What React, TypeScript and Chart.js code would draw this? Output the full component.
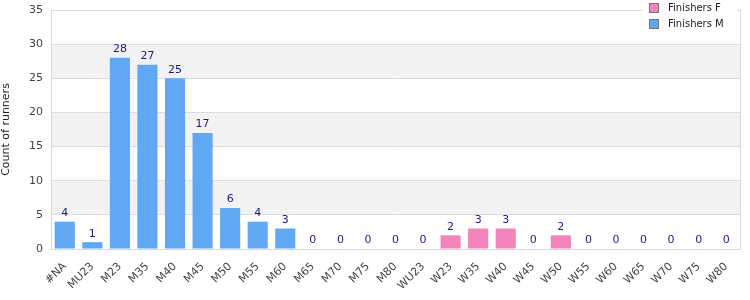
import React, { useEffect, useRef } from "react";
import { Chart, registerables } from "chart.js";

Chart.register(...registerables);

const categories = ["#NA","MU23","M23","M35","M40","M45","M50","M55","M60","M65","M70","M75","M80","WU23","W23","W35","W40","W45","W50","W55","W60","W65","W70","W75","W80"];
const finishersF = [0,0,0,0,0,0,0,0,0,0,0,0,0,0,2,3,3,0,2,0,0,0,0,0,0];
const finishersM = [4,1,28,27,25,17,6,4,3,0,0,0,0,0,0,0,0,0,0,0,0,0,0,0,0];
const yTicks = [0,5,10,15,20,25,30,35];

const FONT = "'DejaVu Sans', Verdana, sans-serif";
const PINK = "#f383bb";
const BLUE = "#60a8f4";

const decor = {
  id: "decor",
  beforeDraw(chart: any) {
    const { ctx, chartArea: a, scales } = chart;
    const y = scales.y;
    ctx.save();
    ctx.fillStyle = "#ffffff";
    ctx.fillRect(0, 0, chart.width, chart.height);
    ctx.fillStyle = "#f2f2f2";
    for (let v = 5; v < 35; v += 10) {
      const t = y.getPixelForValue(v + 5);
      const b = y.getPixelForValue(v);
      ctx.fillRect(a.left, t, a.right - a.left, b - t);
    }
    ctx.restore();
  },
  afterDraw(chart: any) {
    const { ctx, chartArea: a, scales } = chart;
    ctx.save();
    ctx.strokeStyle = "#d9d9d9";
    ctx.lineWidth = 1;
    ctx.strokeRect(Math.round(a.left) + 0.5, Math.round(a.top) + 0.5, Math.round(a.right - a.left), Math.round(a.bottom - a.top));
    // data labels
    ctx.font = "11px " + FONT;
    ctx.fillStyle = "#1a1a8c";
    ctx.textAlign = "center";
    ctx.textBaseline = "bottom";
    categories.forEach((c, i) => {
      const total = finishersF[i] + finishersM[i];
      const x = scales.x.getPixelForValue(i);
      const yy = scales.y.getPixelForValue(total);
      ctx.fillText(String(total), x, yy - 3);
    });
    // legend
    ctx.fillStyle = "#ffffff";
    ctx.fillRect(643, 0, 94, 32);
    const items = [["Finishers F", PINK], ["Finishers M", BLUE]];
    ctx.font = "10px " + FONT;
    ctx.textAlign = "left";
    ctx.textBaseline = "middle";
    items.forEach(([label, col], i) => {
      const cy = 8 + i * 16;
      ctx.fillStyle = col;
      ctx.fillRect(650, cy - 4, 8, 8);
      ctx.strokeStyle = "#777";
      ctx.strokeRect(649.5, cy - 4.5, 9, 9);
      ctx.fillStyle = "#222";
      ctx.fillText(label, 668, cy);
    });
    ctx.restore();
  },
};

export default function App() {
  const ref = useRef<HTMLCanvasElement>(null);
  useEffect(() => {
    document.body.style.margin = "0";
    const chart = new Chart(ref.current!, {
      type: "bar",
      data: {
        labels: categories,
        datasets: [
          { label: "Finishers F", data: finishersF, backgroundColor: PINK },
          { label: "Finishers M", data: finishersM, backgroundColor: BLUE },
        ],
      },
      options: {
        animation: false,
        responsive: false,
        layout: { padding: { top: 10, right: 10, left: 0, bottom: 0 } },
        plugins: { legend: { display: false }, tooltip: { enabled: false } },
        datasets: { bar: { barPercentage: 0.73, categoryPercentage: 1 } },
        scales: {
          x: {
            stacked: true,
            grid: { display: false },
            border: { display: false },
            ticks: {
              autoSkip: false,
              maxRotation: 45,
              minRotation: 45,
              font: { family: FONT, size: 11 },
              color: "#444",
            },
            afterFit(s: any) { s.height = 51; s.paddingLeft = 0; s.paddingRight = 0; },
          },
          y: {
            stacked: true,
            min: 0,
            max: 35,
            afterBuildTicks(s: any) { s.ticks = yTicks.map((v) => ({ value: v })); },
            grid: { color: "#dddddd", drawTicks: false },
            border: { display: false },
            ticks: { font: { family: FONT, size: 11 }, color: "#444", padding: 8 },
            title: { display: true, text: "Count of runners", font: { family: FONT, size: 11 }, color: "#222", padding: 0 },
            afterFit(s: any) { s.width = 51; s.paddingTop = 0; s.paddingBottom = 0; },
          },
        },
      },
      plugins: [decor],
    });
    return () => chart.destroy();
  }, []);
  return <canvas ref={ref} width={750} height={300} style={{ display: "block" }} />;
}
